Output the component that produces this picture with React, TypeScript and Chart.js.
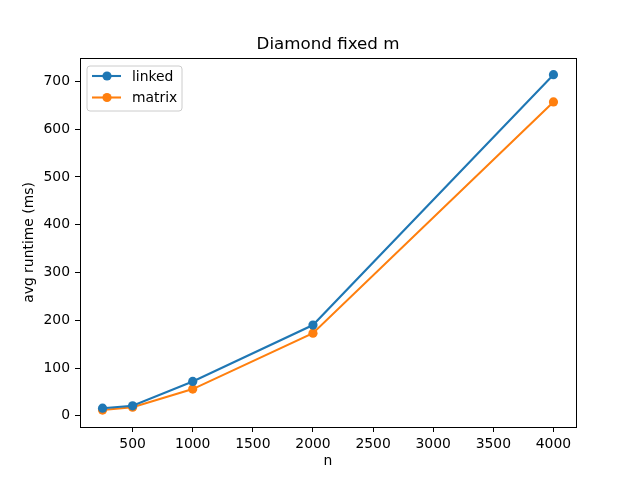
import React, { useEffect, useRef } from "react";
import { Chart, registerables } from "chart.js";

Chart.register(...registerables);

const nValues = [250, 500, 1000, 2000, 4000];
const linked = [16, 21, 72, 190, 714];
const matrix = [12, 18, 56, 173, 657];
const xTicks = [500, 1000, 1500, 2000, 2500, 3000, 3500, 4000];
const yTicks = [0, 100, 200, 300, 400, 500, 600, 700];
const titleText = "Diamond fixed m";
const xLabel = "n";
const yLabel = "avg runtime (ms)";

const FONT = "'DejaVu Sans', sans-serif";
const BLUE = "#1f77b4";
const ORANGE = "#ff7f0e";
const MARKER_R = 4.6;

const framePlugin = {
  id: "frameAndTitle",
  afterDraw(chart: any) {
    const { ctx, chartArea } = chart;
    const { left, right, top, bottom } = chartArea;
    ctx.save();
    ctx.strokeStyle = "#000";
    ctx.lineWidth = 1;
    ctx.strokeRect(Math.round(left) + 0.5, Math.round(top) + 0.5, Math.round(right - left), Math.round(bottom - top));
    ctx.fillStyle = "#000";
    ctx.font = `16.7px ${FONT}`;
    ctx.textAlign = "center";
    ctx.textBaseline = "alphabetic";
    ctx.fillText(titleText, (left + right) / 2, top - 9);
    const lx = left + 7;
    const ly = top + 8;
    const lw = 95;
    const lh = 45;
    const r = 3;
    ctx.beginPath();
    ctx.moveTo(lx + r, ly);
    ctx.lineTo(lx + lw - r, ly);
    ctx.quadraticCurveTo(lx + lw, ly, lx + lw, ly + r);
    ctx.lineTo(lx + lw, ly + lh - r);
    ctx.quadraticCurveTo(lx + lw, ly + lh, lx + lw - r, ly + lh);
    ctx.lineTo(lx + r, ly + lh);
    ctx.quadraticCurveTo(lx, ly + lh, lx, ly + lh - r);
    ctx.lineTo(lx, ly + r);
    ctx.quadraticCurveTo(lx, ly, lx + r, ly);
    ctx.closePath();
    ctx.fillStyle = "rgba(255,255,255,0.8)";
    ctx.fill();
    ctx.strokeStyle = "#cccccc";
    ctx.lineWidth = 1;
    ctx.stroke();
    chart.data.datasets.forEach((ds: any, i: number) => {
      const y = ly + 10 + i * 21.5;
      ctx.strokeStyle = ds.borderColor;
      ctx.lineWidth = 2.08;
      ctx.beginPath();
      ctx.moveTo(lx + 5, y);
      ctx.lineTo(lx + 34, y);
      ctx.stroke();
      ctx.fillStyle = ds.backgroundColor;
      ctx.beginPath();
      ctx.arc(lx + 20, y, MARKER_R, 0, Math.PI * 2);
      ctx.fill();
      ctx.fillStyle = "#000";
      ctx.font = `13.9px ${FONT}`;
      ctx.textAlign = "left";
      ctx.textBaseline = "middle";
      ctx.fillText(ds.label, lx + 45, y + 1);
    });
    ctx.restore();
  },
};

export default function App() {
  const ref = useRef<HTMLCanvasElement | null>(null);
  useEffect(() => {
    if (!ref.current) return;
    const chart = new Chart(ref.current, {
      type: "line",
      data: {
        datasets: [
          {
            label: "linked",
            data: nValues.map((n, i) => ({ x: n, y: linked[i] })),
            borderColor: BLUE,
            backgroundColor: BLUE,
            borderWidth: 2.08,
            pointRadius: MARKER_R,
            pointHoverRadius: MARKER_R,
            pointBorderWidth: 0,
            tension: 0,
          },
          {
            label: "matrix",
            data: nValues.map((n, i) => ({ x: n, y: matrix[i] })),
            borderColor: ORANGE,
            backgroundColor: ORANGE,
            borderWidth: 2.08,
            pointRadius: MARKER_R,
            pointHoverRadius: MARKER_R,
            pointBorderWidth: 0,
            tension: 0,
          },
        ],
      },
      options: {
        animation: false,
        responsive: false,
        maintainAspectRatio: false,
        layout: { padding: { left: 0, right: 64, top: 58, bottom: 0 } },
        plugins: {
          legend: { display: false },
          title: { display: false },
          tooltip: { enabled: false },
        },
        scales: {
          x: {
            type: "linear",
            min: 62.5,
            max: 4187.5,
            afterFit: (s: any) => {
              s.height = 53;
            },
            afterBuildTicks: (s: any) => {
              s.ticks = xTicks.map((v) => ({ value: v }));
            },
            grid: {
              display: true,
              drawOnChartArea: false,
              drawTicks: true,
              tickLength: 5,
              color: "#000",
            },
            border: { display: true, color: "#000", width: 1 },
            ticks: {
              color: "#000",
              font: { family: FONT, size: 13.9 },
              padding: 4,
              maxRotation: 0,
              autoSkip: false,
              callback: (v: any) => String(v),
            },
            title: {
              display: true,
              text: xLabel,
              color: "#000",
              font: { family: FONT, size: 13.9 },
              padding: { top: 0, bottom: 10.5 },
            },
          },
          y: {
            type: "linear",
            min: -23.4,
            max: 749,
            afterFit: (s: any) => {
              s.width = 80;
            },
            afterBuildTicks: (s: any) => {
              s.ticks = yTicks.map((v) => ({ value: v }));
            },
            grid: {
              display: true,
              drawOnChartArea: false,
              drawTicks: true,
              tickLength: 5,
              color: "#000",
            },
            border: { display: true, color: "#000", width: 1 },
            ticks: {
              color: "#000",
              font: { family: FONT, size: 13.9 },
              padding: 5,
              autoSkip: false,
              callback: (v: any) => String(v),
            },
            title: {
              display: true,
              text: yLabel,
              color: "#000",
              font: { family: FONT, size: 13.9 },
              padding: { top: 21.5, bottom: 0 },
            },
          },
        },
      },
      plugins: [framePlugin],
    });
    return () => chart.destroy();
  }, []);
  return (
    <div style={{ position: "fixed", left: 0, top: 0, width: 640, height: 480, background: "#fff" }}>
      <canvas ref={ref} width={640} height={480} style={{ width: 640, height: 480 }} />
    </div>
  );
}
